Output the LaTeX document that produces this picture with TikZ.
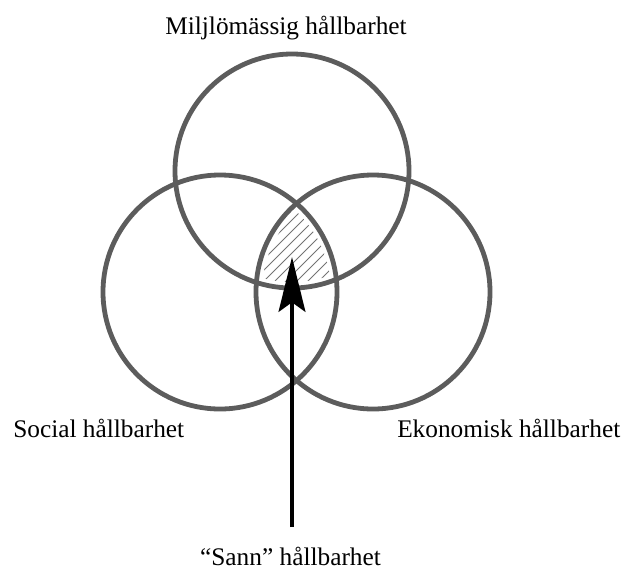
\documentclass[tikz,border=0pt]{standalone}
\usepackage{fontspec}
\setmainfont{Liberation Serif}
\usepackage{xcolor}
\usetikzlibrary{arrows.meta}
\definecolor{ringgray}{gray}{0.36}

\begin{document}
\begin{tikzpicture}[x=0.75pt,y=-0.75pt,font=\fontsize{19}{22}\selectfont,
  ring/.style={draw=ringgray,line width=3.6pt},
  hatchline/.style={black!55,line width=0.6pt},
  ringtext/.style={inner sep=0pt},
  pointer/.style={line width=3.4pt,-{Stealth[length=41pt,width=20pt,inset=7pt]}}]
  \useasboundingbox (0,0) rectangle (625,572);
  \coordinate (miljo) at (292,171);
  \coordinate (social) at (220,292);
  \coordinate (ekonomi) at (373,292);
  % hatched core
  \begin{scope}
    \clip (miljo) circle (111);
    \clip (social) circle (111);
    \clip (ekonomi) circle (111);
    \foreach \c in {468,479,...,625}{\draw[hatchline] (\c-300,300) -- (\c-190,190);}
  \end{scope}
  \foreach \p in {miljo,social,ekonomi}{\draw[ring] (\p) circle (117);}
  \node[ringtext,anchor=base] (miljotext) at (286,34) {Miljlömässig hållbarhet};
  \node[ringtext,anchor=base west] (socialtext) at (13,437) {Social hållbarhet};
  \node[ringtext,anchor=base west] (ekonomitext) at (397,437) {Ekonomisk hållbarhet};
  \node[ringtext,anchor=base] (sanntext) at (290.5,565) {“Sann” hållbarhet};
  \coordinate (foot) at (292,527);
  \coordinate (tip) at (292,257);
  \draw[pointer] (foot) -- (tip);
\end{tikzpicture}
\end{document}
